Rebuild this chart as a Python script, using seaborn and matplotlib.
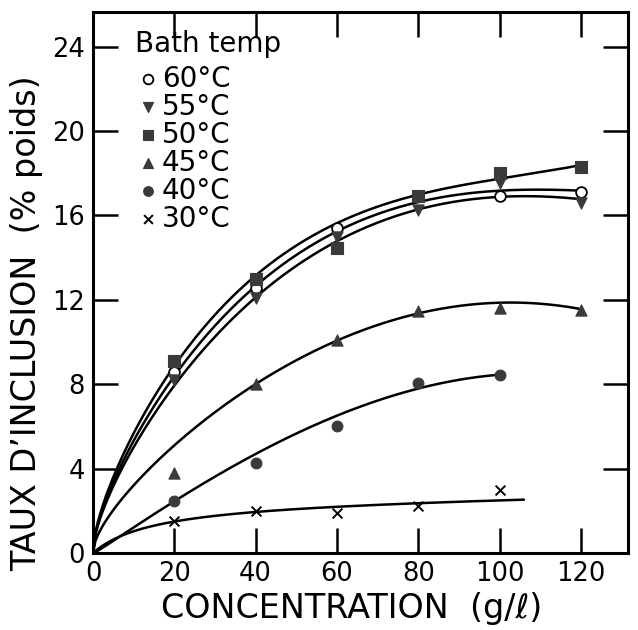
import numpy as np
import pandas as pd
import seaborn as sns
import matplotlib.pyplot as plt

sns.set_theme(style="ticks")
plt.rcParams['font.family'] = ['DejaVu Sans']
plt.rcParams['text.color'] = 'black'
plt.rcParams['axes.labelcolor'] = 'black'
plt.rcParams['legend.labelcolor'] = 'black'

# measured points
conc = [20, 40, 60, 80, 100, 120]
y60 = [8.6, 12.55, 15.4, 16.9, 16.9, 17.1]
y55 = [8.2, 12.1, 15.0, 16.25, 17.55, 16.6]
y50 = [9.1, 13.0, 14.45, 16.9, 18.0, 18.3]
y45 = [3.8, 8.0, 10.1, 11.45, 11.6, 11.5]
conc40 = [20, 40, 60, 80, 100]
y40 = [2.45, 4.25, 6.0, 8.05, 8.45]
y30 = [1.5, 2.0, 1.9, 2.25, 3.0]

# hand-drawn trend curves
cx_up = [0, 10, 20, 40, 60, 80, 100, 120]
c50 = [0, 5.4, 9.2, 13.2, 15.4, 16.95, 17.95, 18.3]
c60 = [0, 5.1, 8.65, 12.7, 15.05, 16.6, 17.35, 17.1]
c55 = [0, 4.8, 8.2, 12.15, 14.6, 16.25, 17.05, 16.7]
cx45 = [0, 20, 40, 60, 80, 100, 120]
c45 = [0, 5.1, 8.0, 10.1, 11.3, 11.9, 11.55]
cx40 = [0, 20, 40, 60, 80, 100]
c40 = [0, 2.45, 4.7, 6.5, 7.8, 8.45]
cx30 = [0, 20, 40, 60, 80, 106]
c30 = [0, 1.42, 2.0, 2.2, 2.38, 2.5]

xticks = [0, 20, 40, 60, 80, 100, 120]
yticks = [0, 4, 8, 12, 16, 20, 24]


def basis(v, kind):
    if kind == "steep":
        return np.column_stack([np.sqrt(v), v, v ** 2, v ** 3])
    return np.column_stack([v / (15.0 + v), v])


def smooth(xs, ys, kind="steep", n=200):
    xs = np.asarray(xs, float)
    ys = np.asarray(ys, float)
    coef, *_ = np.linalg.lstsq(basis(xs, kind), ys, rcond=None)
    xd = np.linspace(0, xs.max(), n)
    return pd.DataFrame({"x": xd, "y": basis(xd, kind) @ coef})


fig = plt.figure(figsize=(6.38, 6.30), dpi=100)
ax = fig.add_axes([93 / 638, 1 - 553 / 630, (628 - 93) / 638, (553 - 12) / 630])

for cx, cy, kind in [(cx_up, c50, "steep"), (cx_up, c60, "steep"), (cx_up, c55, "steep"),
                     (cx45, c45, "steep"), (cx40, c40, "steep"), (cx30, c30, "sat")]:
    d = smooth(cx, cy, kind)
    sns.lineplot(data=d, x="x", y="y", ax=ax, color="black", lw=1.8, sort=False)

dark = "#3a3a3a"
series = [
    ("60°C", conc, y60, dict(marker="o", facecolor="white", edgecolor="black", s=60, linewidth=1.3)),
    ("55°C", conc, y55, dict(marker="v", color=dark, edgecolor=dark, s=65, linewidth=0.8)),
    ("50°C", conc, y50, dict(marker="s", color=dark, edgecolor=dark, s=65, linewidth=0.8)),
    ("45°C", conc, y45, dict(marker="^", color=dark, edgecolor=dark, s=65, linewidth=0.8)),
    ("40°C", conc40, y40, dict(marker="o", color=dark, edgecolor=dark, s=60, linewidth=0.8)),
    ("30°C", conc40, y30, dict(marker="x", color="black", s=50, linewidth=1.4)),
]
for lab, xs, ys, kw in series:
    sns.scatterplot(x=xs, y=ys, ax=ax, label=lab, zorder=5, **kw)

ax.set_xlim(0, 131.6)
ax.set_ylim(0, 25.64)
ax.set_xticks(xticks)
ax.set_yticks(yticks)
ax.set_xticklabels([str(v) for v in xticks])
ax.set_yticklabels([str(v) for v in yticks])
ax.tick_params(direction="in", length=18, width=1.8, labelsize=18.5, pad=6,
               top=True, right=True, colors="black")
for s in ax.spines.values():
    s.set_linewidth(2.2)
    s.set_color("black")
ax.set_xlabel("CONCENTRATION  (g/ℓ)", fontsize=24)
ax.set_ylabel("TAUX D’INCLUSION  (% poids)", fontsize=24)
ax.xaxis.set_label_coords(0.484, -0.072)
ax.yaxis.set_label_coords(-0.094, 0.425)

leg = ax.legend(title="Bath temp", loc="upper left", bbox_to_anchor=(0.043, 1.002),
                frameon=False, fontsize=20, title_fontsize=20, handletextpad=0.05,
                labelspacing=0.0, borderpad=0.2, handlelength=0.9, markerscale=0.9)
leg._legend_box.align = "left"
leg._legend_box.sep = 4.5

fig.savefig("out.png", dpi=100)
